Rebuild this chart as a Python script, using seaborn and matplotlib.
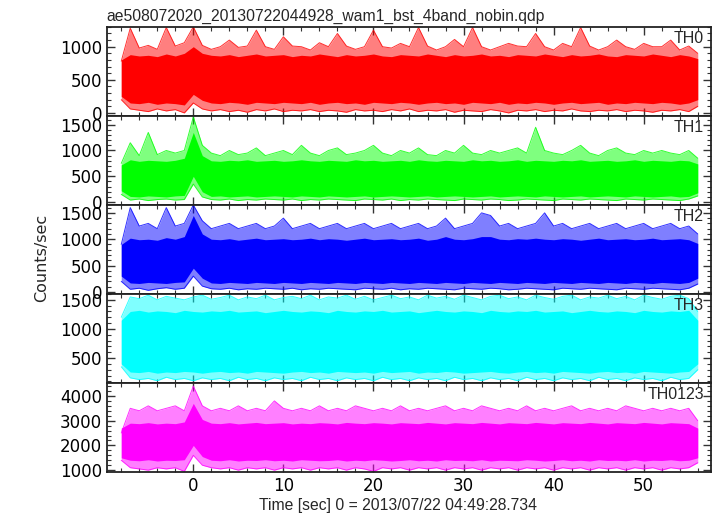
import matplotlib
matplotlib.use("Agg")
import matplotlib.pyplot as plt
import seaborn as sns
import pandas as pd
from matplotlib.ticker import MultipleLocator

# time of each 1-s envelope sample (sec from trigger)
seconds = list(range(-8, 57))

# TH0 envelope (counts/sec)
th0_top = [780, 1280, 980, 1020, 960, 1290, 1010, 1060, 1300, 1020,
           960, 1000, 1100, 990, 1010, 1250, 1000, 960, 1150, 1010,
           1000, 950, 1060, 1000, 1200, 1010, 960, 1000, 1250, 1000,
           980, 1050, 1000, 1290, 1010, 950, 1000, 1110, 1000, 1290,
           1000, 950, 1000, 1050, 1010, 1000, 1200, 1000, 950, 1050,
           1000, 1290, 1010, 950, 1000, 1100, 1000, 960, 1050, 1000,
           1000, 1100, 950, 1010, 900]
th0_hi = [800, 880, 860, 870, 850, 890, 860, 900, 1000, 900,
          870, 860, 880, 850, 870, 890, 860, 870, 880, 850,
          870, 860, 890, 870, 850, 880, 860, 870, 890, 860,
          850, 880, 870, 860, 890, 870, 850, 880, 860, 870,
          890, 860, 870, 850, 880, 870, 860, 890, 870, 850,
          880, 860, 870, 890, 860, 850, 880, 870, 860, 890,
          870, 850, 880, 860, 820]
th0_lo = [250, 150, 140, 160, 130, 150, 140, 120, 280, 190,
          150, 140, 160, 150, 130, 160, 150, 140, 160, 150,
          140, 160, 130, 150, 160, 140, 150, 130, 160, 150,
          140, 160, 150, 130, 150, 160, 140, 150, 130, 160,
          150, 140, 160, 130, 150, 140, 160, 150, 130, 150,
          160, 140, 150, 160, 130, 150, 140, 160, 150, 140,
          160, 150, 130, 150, 200]
th0_bottom = [200, 60, 40, 20, 60, 30, 50, 0, 150, 60,
              30, 50, 20, 40, 10, 50, 30, 60, 20, 40,
              30, 50, 20, 40, 30, 10, 50, 30, 40, 20,
              50, 30, 60, 20, 40, 30, 50, 10, 40, 30,
              20, 50, 30, 0, 40, 30, 50, 20, 40, 30,
              60, 30, 20, 40, 30, 50, 20, 40, 30, 10,
              40, 30, 50, 20, 100]

# TH1
th1_top = [750, 1150, 900, 1350, 920, 1000, 950, 1000, 1650, 1100,
           950, 900, 1000, 920, 950, 1050, 900, 950, 1000, 920,
           1100, 950, 900, 1000, 1050, 920, 950, 1000, 1100, 950,
           900, 1000, 950, 1050, 920, 900, 1000, 950, 1100, 950,
           920, 1000, 950, 1000, 1050, 950, 1450, 1000, 950, 920,
           1000, 1100, 950, 900, 1000, 1050, 950, 920, 1000, 950,
           1000, 950, 920, 1000, 850]
th1_hi = [720, 820, 790, 810, 800, 790, 810, 850, 1350, 900,
          800, 790, 810, 800, 820, 790, 800, 810, 790, 800,
          820, 800, 790, 810, 800, 790, 820, 800, 810, 790,
          800, 810, 790, 820, 800, 790, 810, 800, 790, 820,
          800, 810, 790, 800, 820, 790, 810, 800, 790, 810,
          800, 820, 790, 800, 810, 790, 800, 820, 790, 810,
          800, 790, 810, 800, 740]
th1_lo = [220, 110, 100, 120, 110, 100, 120, 130, 500, 200,
          110, 120, 100, 110, 120, 100, 110, 120, 110, 100,
          120, 110, 100, 120, 110, 100, 110, 120, 100, 110,
          120, 110, 100, 110, 120, 100, 110, 120, 110, 100,
          110, 120, 100, 110, 120, 110, 100, 120, 110, 100,
          110, 120, 100, 110, 120, 110, 100, 120, 110, 100,
          110, 120, 100, 110, 180]
th1_bottom = [150, 40, 60, 30, 50, 60, 40, 50, 350, 100,
              50, 40, 60, 30, 50, 40, 60, 50, 40, 60,
              30, 50, 40, 60, 50, 40, 30, 60, 50, 40,
              60, 30, 50, 40, 60, 50, 40, 30, 60, 50,
              40, 60, 50, 30, 40, 60, 50, 40, 30, 60,
              50, 40, 60, 50, 40, 30, 60, 50, 40, 60,
              50, 40, 30, 60, 120]

# TH2
th2_top = [900, 1600, 1250, 1300, 1200, 1600, 1250, 1300, 1650, 1350,
           1200, 1250, 1300, 1200, 1250, 1300, 1200, 1250, 1400, 1200,
           1250, 1300, 1200, 1250, 1300, 1200, 1250, 1300, 1200, 1250,
           1300, 1200, 1250, 1300, 1200, 1250, 1400, 1200, 1250, 1300,
           1500, 1450, 1250, 1300, 1200, 1250, 1300, 1500, 1250, 1300,
           1200, 1250, 1300, 1200, 1250, 1300, 1200, 1250, 1300, 1200,
           1250, 1300, 1200, 1250, 1100]
th2_hi = [900, 1020, 990, 1000, 980, 1030, 1000, 1050, 1450, 1100,
          1000, 990, 1010, 980, 1000, 1020, 990, 1000, 1010, 990,
          1000, 1020, 990, 1010, 1000, 980, 1000, 1020, 990, 1000,
          1010, 990, 1000, 1020, 980, 1000, 1050, 1000, 990, 1010,
          1050, 1050, 1000, 990, 1010, 1000, 1020, 1000, 990, 1010,
          1000, 980, 1000, 1020, 990, 1000, 1010, 990, 1000, 1020,
          990, 1000, 1010, 990, 920]
th2_lo = [300, 170, 160, 180, 170, 160, 180, 190, 450, 260,
          170, 160, 180, 170, 160, 180, 170, 160, 180, 170,
          160, 180, 170, 160, 180, 170, 160, 180, 170, 160,
          180, 170, 160, 180, 170, 160, 180, 170, 160, 180,
          170, 160, 180, 170, 160, 180, 170, 160, 180, 170,
          160, 180, 170, 160, 180, 170, 160, 180, 170, 160,
          180, 170, 160, 180, 260]
th2_bottom = [200, 50, 70, 30, 60, 80, 50, 70, 300, 110,
              60, 50, 70, 40, 60, 50, 70, 60, 50, 70,
              40, 60, 50, 70, 60, 50, 40, 70, 60, 50,
              70, 40, 60, 50, 70, 60, 50, 40, 70, 60,
              50, 70, 60, 40, 50, 70, 60, 50, 40, 70,
              60, 50, 70, 60, 50, 40, 70, 60, 50, 70,
              60, 50, 40, 70, 150]

# TH3
th3_top = [1200, 1550, 1520, 1580, 1500, 1560, 1530, 1500, 1550, 1580,
           1510, 1540, 1580, 1500, 1550, 1520, 1580, 1500, 1540, 1560,
           1520, 1580, 1500, 1550, 1530, 1580, 1510, 1560, 1500, 1540,
           1580, 1520, 1550, 1500, 1580, 1530, 1560, 1510, 1580, 1540,
           1500, 1560, 1580, 1520, 1550, 1500, 1580, 1540, 1510, 1560,
           1580, 1500, 1550, 1530, 1580, 1520, 1560, 1500, 1580, 1540,
           1510, 1560, 1580, 1520, 1300]
th3_hi = [1150, 1300, 1320, 1290, 1310, 1300, 1280, 1320, 1300, 1290,
          1310, 1300, 1320, 1290, 1300, 1310, 1280, 1300, 1320, 1300,
          1290, 1310, 1300, 1280, 1320, 1300, 1290, 1310, 1300, 1320,
          1290, 1300, 1310, 1280, 1300, 1320, 1300, 1290, 1310, 1300,
          1280, 1320, 1300, 1290, 1310, 1300, 1320, 1290, 1300, 1310,
          1280, 1300, 1320, 1300, 1290, 1310, 1300, 1280, 1320, 1300,
          1290, 1310, 1300, 1320, 1150]
th3_lo = [400, 260, 250, 270, 240, 260, 250, 270, 260, 240,
          260, 270, 250, 260, 240, 270, 260, 250, 240, 260,
          270, 250, 260, 240, 270, 260, 250, 260, 240, 270,
          250, 260, 270, 240, 260, 250, 270, 260, 240, 250,
          260, 270, 250, 240, 260, 270, 250, 260, 240, 270,
          260, 250, 240, 260, 270, 250, 260, 240, 270, 260,
          250, 240, 260, 270, 400]
th3_bottom = [350, 160, 130, 150, 110, 170, 130, 150, 110, 160,
              130, 150, 110, 170, 130, 150, 110, 160, 130, 150,
              110, 170, 130, 150, 110, 160, 130, 150, 110, 170,
              130, 150, 110, 160, 130, 150, 110, 170, 130, 150,
              110, 160, 130, 150, 110, 170, 130, 150, 110, 160,
              130, 150, 110, 170, 130, 150, 110, 160, 130, 150,
              110, 170, 130, 150, 300]

# TH0123 (sum of all bands)
th0123_top = [2500, 3500, 3400, 3600, 3400, 3500, 3600, 3400, 4400, 3600,
              3400, 3500, 3400, 3600, 3400, 3500, 3400, 3800, 3500, 3400,
              3500, 3400, 3600, 3400, 3500, 3400, 3600, 3500, 3400, 3500,
              3400, 3600, 3400, 3500, 3400, 3500, 3600, 3400, 3500, 3400,
              3600, 3500, 3400, 3500, 3400, 3600, 3400, 3500, 3400, 3500,
              3600, 3400, 3500, 3400, 3500, 3400, 3600, 3500, 3400, 3500,
              3400, 3500, 3400, 3500, 3000]
th0123_hi = [2700, 2900, 2880, 2920, 2870, 2900, 2880, 2950, 3700, 3050,
             2900, 2880, 2920, 2870, 2900, 2930, 2880, 2900, 2920, 2870,
             2900, 2880, 2920, 2900, 2870, 2930, 2900, 2880, 2920, 2900,
             2870, 2920, 2900, 2880, 2930, 2900, 2870, 2920, 2900, 2880,
             2930, 2900, 2870, 2920, 2900, 2880, 2930, 2900, 2870, 2920,
             2900, 2880, 2930, 2900, 2870, 2920, 2900, 2880, 2930, 2900,
             2870, 2920, 2900, 2880, 2700]
th0123_lo = [1500, 1400, 1380, 1420, 1370, 1400, 1390, 1420, 2000, 1550,
             1400, 1380, 1420, 1370, 1400, 1390, 1420, 1380, 1400, 1370,
             1420, 1400, 1380, 1390, 1420, 1370, 1400, 1380, 1420, 1400,
             1370, 1390, 1420, 1380, 1400, 1370, 1420, 1390, 1400, 1380,
             1420, 1370, 1400, 1390, 1380, 1420, 1400, 1370, 1390, 1420,
             1380, 1400, 1370, 1420, 1390, 1400, 1380, 1420, 1370, 1400,
             1390, 1420, 1380, 1400, 1500]
th0123_bottom = [1400, 1100, 1050, 1000, 1100, 1050, 1100, 950, 1600, 1200,
                 1100, 1050, 1100, 1000, 1100, 1050, 1100, 1000, 1100, 1050,
                 1100, 1000, 1100, 1050, 1100, 1000, 1100, 1050, 950, 1100,
                 1050, 1100, 1000, 1100, 1050, 1100, 1000, 1100, 1050, 1100,
                 1000, 1100, 1050, 1100, 1000, 1100, 1050, 1100, 1000, 1100,
                 1050, 1100, 1000, 1100, 1050, 1100, 1000, 1100, 1050, 1100,
                 1000, 1100, 1050, 1100, 1300]

band_names = ["TH0", "TH1", "TH2", "TH3", "TH0123"]
band_colors = ["#ff0000", "#00ff00", "#0000ff", "#00ffff", "#ff00ff"]
envelopes = [
    (th0_bottom, th0_lo, th0_hi, th0_top),
    (th1_bottom, th1_lo, th1_hi, th1_top),
    (th2_bottom, th2_lo, th2_hi, th2_top),
    (th3_bottom, th3_lo, th3_hi, th3_top),
    (th0123_bottom, th0123_lo, th0123_hi, th0123_top),
]
y_limits = [(-45, 1300), (-55, 1670), (-40, 1650), (70, 1600), (920, 4520)]
y_major = [500, 500, 500, 500, 1000]
y_minor = [100, 100, 100, 100, 200]

LABEL_FONT = ["Liberation Sans", "DejaVu Sans"]


def draw_panel(ax, name, color, env):
    bottom, lo, hi, top = env
    df = pd.DataFrame({"t": seconds, "bottom": bottom, "lo": lo,
                       "hi": hi, "top": top})
    # scattered spikes around the dense band
    ax.fill_between(df["t"], df["bottom"], df["top"], color=color,
                    alpha=0.5, linewidth=0)
    sns.lineplot(data=df, x="t", y="top", ax=ax, color=color,
                 linewidth=0.7, alpha=0.8)
    sns.lineplot(data=df, x="t", y="bottom", ax=ax, color=color,
                 linewidth=0.7, alpha=0.8)
    # dense core of the light curve
    ax.fill_between(df["t"], df["lo"], df["hi"], color=color, linewidth=0)
    ax.text(0.988, 0.955, name, transform=ax.transAxes, ha="right",
            va="top", fontsize=11.5, family=LABEL_FONT)


def main():
    sns.set_style("ticks")
    plt.rcParams["font.family"] = ["DejaVu Sans"]

    fig, axes = plt.subplots(5, 1, sharex=True, figsize=(7.17, 5.16),
                             dpi=100)
    fig.subplots_adjust(left=0.149, right=0.992, top=0.948, bottom=0.085,
                        hspace=0)

    for i, ax in enumerate(axes):
        draw_panel(ax, band_names[i], band_colors[i], envelopes[i])
        ax.set_ylim(*y_limits[i])
        ax.set_xlim(-9.6, 57.5)
        ax.yaxis.set_major_locator(MultipleLocator(y_major[i]))
        ax.yaxis.set_minor_locator(MultipleLocator(y_minor[i]))
        ax.xaxis.set_major_locator(MultipleLocator(10))
        ax.xaxis.set_minor_locator(MultipleLocator(2))
        ax.tick_params(which="both", direction="in", top=True, right=True,
                       labelsize=12, color="#333333", labelcolor="black")
        ax.tick_params(which="major", length=6, width=1)
        ax.tick_params(which="minor", length=3, width=0.8)
        ax.set_xlabel("")
        ax.set_ylabel("")
        for s in ax.spines.values():
            s.set_linewidth(1.3)
            s.set_color("#222222")

    axes[0].set_title("ae508072020_20130722044928_wam1_bst_4band_nobin.qdp",
                      loc="left", fontsize=11.3, pad=4, family=LABEL_FONT)
    axes[-1].set_xlabel("Time [sec] 0 = 2013/07/22 04:49:28.734",
                        fontsize=11.3, labelpad=2, family=LABEL_FONT)
    axes[-1].xaxis.label.set_x(0.481)
    fig.text(0.058, 0.5, "Counts/sec", rotation=90, ha="center",
             va="center", fontsize=11.5)

    plt.savefig("out.png", dpi=100)


if __name__ == "__main__":
    main()
